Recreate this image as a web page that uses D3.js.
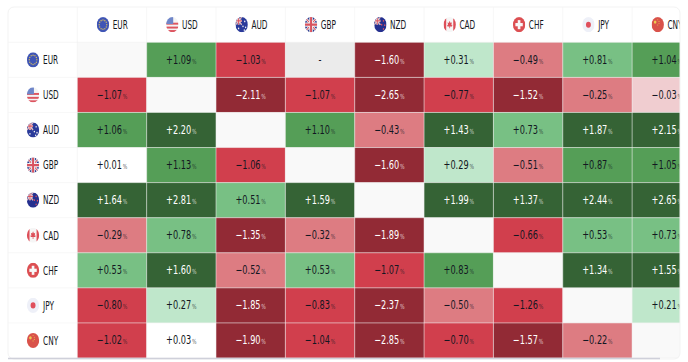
<!DOCTYPE html>
<html>
<head>
<meta charset="utf-8">
<script src="https://cdn.jsdelivr.net/npm/d3@7"></script>
<style>
  body { margin: 0; background: #fff; }
  text { font-family: "DejaVu Sans", sans-serif; font-stretch: condensed; }
</style>
</head>
<body>
<div id="chart"></div>
<script>
// Cross rates, one list per row. null = the currency against itself, "-" = no quote
const currencies = ["EUR", "USD", "AUD", "GBP", "NZD", "CAD", "CHF", "JPY", "CNY"];
const eurRow = [null, 1.09, -1.03, "-", -1.60, 0.31, -0.49, 0.81, 1.04];
const usdRow = [-1.07, null, -2.11, -1.07, -2.65, -0.77, -1.52, -0.25, -0.03];
const audRow = [1.06, 2.20, null, 1.10, -0.43, 1.43, 0.73, 1.87, 2.15];
const gbpRow = [0.01, 1.13, -1.06, null, -1.60, 0.29, -0.51, 0.87, 1.05];
const nzdRow = [1.64, 2.81, 0.51, 1.59, null, 1.99, 1.37, 2.44, 2.65];
const cadRow = [-0.29, 0.78, -1.35, -0.32, -1.89, null, -0.66, 0.53, 0.73];
const chfRow = [0.53, 1.60, -0.52, 0.53, -1.07, 0.83, null, 1.34, 1.55];
const jpyRow = [-0.80, 0.27, -1.85, -0.83, -2.37, -0.50, -1.26, null, 0.21];
const cnyRow = [-1.02, 0.03, -1.90, -1.04, -2.85, -0.70, -1.57, -0.22, null];
const rows = [eurRow, usdRow, audRow, gbpRow, nzdRow, cadRow, chfRow, jpyRow, cnyRow];

const width = 688, height = 362;
const left = 8, top_ = 7, right = 680, bottom = 358;
const headW = 69.3, headH = 35.3;

const svg = d3.select("#chart").append("svg")
  .attr("width", width)
  .attr("height", height)
  .style("display", "block");

const x = d3.scaleBand().domain(currencies).range([left + headW, left + headW + 69.35 * 9]);
const y = d3.scaleBand().domain(currencies).range([top_ + headH, bottom]);

const color = d3.scaleThreshold()
  .domain([-1.3, -0.6, -0.1, -0.02, 0.1, 0.5, 0.82, 1.25])
  .range(["#922a35", "#d13f4d", "#dd7c82", "#f0cdd0", "#ffffff", "#bfe7cb", "#78c084", "#559e57", "#356335"]);

// Clip everything to the rounded panel, the CNY column runs off the right edge
const defs = svg.append("defs");
defs.append("clipPath").attr("id", "panel")
  .append("rect").attr("x", left).attr("y", top_)
  .attr("width", right - left).attr("height", bottom - top_ + 2).attr("rx", 6);
defs.append("clipPath").attr("id", "disc")
  .append("circle").attr("r", 7);

const panel = svg.append("g").attr("clip-path", "url(#panel)");

// body cells
const cells = rows.flatMap((row, i) => row.map((v, j) => ({ r: currencies[i], c: currencies[j], v })));

panel.selectAll("rect.cell")
  .data(cells)
  .enter().append("rect")
  .attr("class", "cell")
  .attr("x", d => x(d.c))
  .attr("y", d => y(d.r))
  .attr("width", x.bandwidth())
  .attr("height", y.bandwidth())
  .attr("fill", d => d.v === null ? "#f9f9f9" : d.v === "-" ? "#ebebeb" : color(d.v));

// grid lines, thin and a bit see through on the coloured cells
const gridX = [left + headW].concat(currencies.map(c => x(c) + x.bandwidth()));
const gridY = [top_ + headH].concat(currencies.map(c => y(c) + y.bandwidth()));
panel.selectAll("line.gx").data(gridX).enter().append("line")
  .attr("x1", d => d).attr("x2", d => d).attr("y1", top_).attr("y2", bottom)
  .attr("stroke", "#f0f0f0").attr("stroke-opacity", 0.55);
panel.selectAll("line.gy").data(gridY).enter().append("line")
  .attr("x1", left).attr("x2", right).attr("y1", d => d).attr("y2", d => d)
  .attr("stroke", "#f0f0f0").attr("stroke-opacity", 0.55);

// value labels, the source is squeezed sideways so the text is too
const labels = panel.selectAll("text.value")
  .data(cells.filter(d => d.v !== null))
  .enter().append("text")
  .attr("class", "value")
  .attr("transform", d => `translate(${x(d.c) + x.bandwidth() / 2},${y(d.r) + y.bandwidth() / 2 + 4}) scale(0.76,1)`)
  .attr("text-anchor", "middle")
  .style("font-size", "12px")
  .attr("fill", d => (d.v !== "-" && (d.v <= -1.3 || d.v >= 1.25)) ? "#ffffff" : "#131722");

labels.append("tspan")
  .text(d => d.v === "-" ? "-" : (d.v > 0 ? "+" : "\u2212") + Math.abs(d.v).toFixed(2));
labels.filter(d => d.v !== "-").append("tspan")
  .attr("dx", 1)
  .style("font-size", "7px")
  .attr("fill-opacity", 0.75)
  .text("%");

// little round flags
function flag(g, code) {
  const f = g.append("g").attr("clip-path", "url(#disc)");
  const r = 7;
  const box = (x0, y0, w, h, fill) => f.append("rect").attr("x", x0).attr("y", y0).attr("width", w).attr("height", h).attr("fill", fill);
  const unionJack = (sx, sy, s) => {
    const u = f.append("g").attr("transform", `translate(${sx},${sy}) scale(${s})`);
    u.append("rect").attr("x", -7).attr("y", -7).attr("width", 14).attr("height", 14).attr("fill", "#2b3a8f");
    u.append("path").attr("d", "M-7,-7L7,7M7,-7L-7,7").attr("stroke", "#f3f3f3").attr("stroke-width", 2.6);
    u.append("path").attr("d", "M-7,-7L7,7M7,-7L-7,7").attr("stroke", "#d9535f").attr("stroke-width", 1);
    u.append("path").attr("d", "M0,-7V7M-7,0H7").attr("stroke", "#f3f3f3").attr("stroke-width", 4);
    u.append("path").attr("d", "M0,-7V7M-7,0H7").attr("stroke", "#d9535f").attr("stroke-width", 2.2);
  };
  if (code === "EUR") {
    box(-r, -r, 2 * r, 2 * r, "#3f55b5");
    f.selectAll("circle.star").data(d3.range(12)).enter().append("circle")
      .attr("cx", d => 4.3 * Math.cos(d * Math.PI / 6))
      .attr("cy", d => 4.3 * Math.sin(d * Math.PI / 6))
      .attr("r", 0.7).attr("fill", "#e4c75a");
  } else if (code === "USD") {
    box(-r, -r, 2 * r, 2 * r, "#f4f4f4");
    [-1.8, 1.8, 5].forEach(yy => box(-r, yy, 2 * r, 1.8, "#dd5560"));
    box(-r, -r, 8, 6.4, "#6f86c9");
  } else if (code === "AUD" || code === "NZD") {
    box(-r, -r, 2 * r, 2 * r, code === "AUD" ? "#2a3a9a" : "#25308f");
    unionJack(-3.5, -3.5, 0.5);
    const stars = code === "AUD" ? [[3.5, -3], [1.5, 1.5], [4.5, 2.5], [3, 5], [-3.5, 3.5]] : [[3.5, -3.5], [1.5, 0], [5, 0.5], [3.5, 4]];
    f.selectAll("circle.star").data(stars).enter().append("circle")
      .attr("cx", d => d[0]).attr("cy", d => d[1]).attr("r", 0.8)
      .attr("fill", code === "AUD" ? "#f4f4f4" : "#dd5560");
  } else if (code === "GBP") {
    unionJack(0, 0, 1);
  } else if (code === "CAD") {
    box(-r, -r, 2 * r, 2 * r, "#f6f6f6");
    box(-r, -r, 3, 2 * r, "#dd4f59");
    box(4, -r, 3, 2 * r, "#dd4f59");
    f.append("path").attr("d", "M0,-3.6L1,-1.6L2.4,-2.2L1.9,0.6L3,0L2.6,1.6L0.4,1.6V3.4H-0.4V1.6L-2.6,1.6L-3,0L-1.9,0.6L-2.4,-2.2L-1,-1.6Z").attr("fill", "#dd4f59");
  } else if (code === "CHF") {
    box(-r, -r, 2 * r, 2 * r, "#dc4f52");
    box(-1.5, -4.2, 3, 8.4, "#f7f7f7");
    box(-4.2, -1.5, 8.4, 3, "#f7f7f7");
  } else if (code === "JPY") {
    box(-r, -r, 2 * r, 2 * r, "#eef0f8");
    f.append("circle").attr("r", 2.8).attr("fill", "#e0505c");
  } else if (code === "CNY") {
    box(-r, -r, 2 * r, 2 * r, "#d9524a");
    f.append("circle").attr("cx", -3).attr("cy", -2.4).attr("r", 1.5).attr("fill", "#eccb4f");
    [[0, -4.6], [1.4, -3], [1.4, -1], [0, 0.4]].forEach(p => f.append("circle").attr("cx", p[0]).attr("cy", p[1]).attr("r", 0.5).attr("fill", "#eccb4f"));
  }
}

// column headers
const colHead = panel.selectAll("g.col").data(currencies).enter().append("g")
  .attr("class", "col")
  .attr("transform", d => `translate(${x(d) + x.bandwidth() / 2},${top_ + headH / 2})`);
colHead.each(function (d) {
  flag(d3.select(this).append("g").attr("transform", "translate(-9,0) scale(0.88,1.08)"), d);
});
colHead.append("text").attr("transform", "translate(0.7,4.3) scale(0.68,1)").style("font-size", "12px").attr("fill", "#131722").text(d => d);

// row headers
const rowHead = panel.selectAll("g.row").data(currencies).enter().append("g")
  .attr("class", "row")
  .attr("transform", d => `translate(${left + headW / 2},${y(d) + y.bandwidth() / 2})`);
rowHead.each(function (d) {
  flag(d3.select(this).append("g").attr("transform", "translate(-9.6,0) scale(0.88,1.08)"), d);
});
rowHead.append("text").attr("transform", "translate(0.4,4.3) scale(0.68,1)").style("font-size", "12px").attr("fill", "#131722").text(d => d);

// panel outline and the strip of scrollbar along the bottom
svg.append("rect").attr("x", left).attr("y", top_)
  .attr("width", right - left).attr("height", bottom - top_ + 1).attr("rx", 6)
  .attr("fill", "none").attr("stroke", "#f3f3f3");
svg.append("line").attr("x1", left).attr("x2", 660).attr("y1", 358.5).attr("y2", 358.5)
  .attr("stroke", "#cfd0da").attr("stroke-width", 1.5);
</script>
</body>
</html>
